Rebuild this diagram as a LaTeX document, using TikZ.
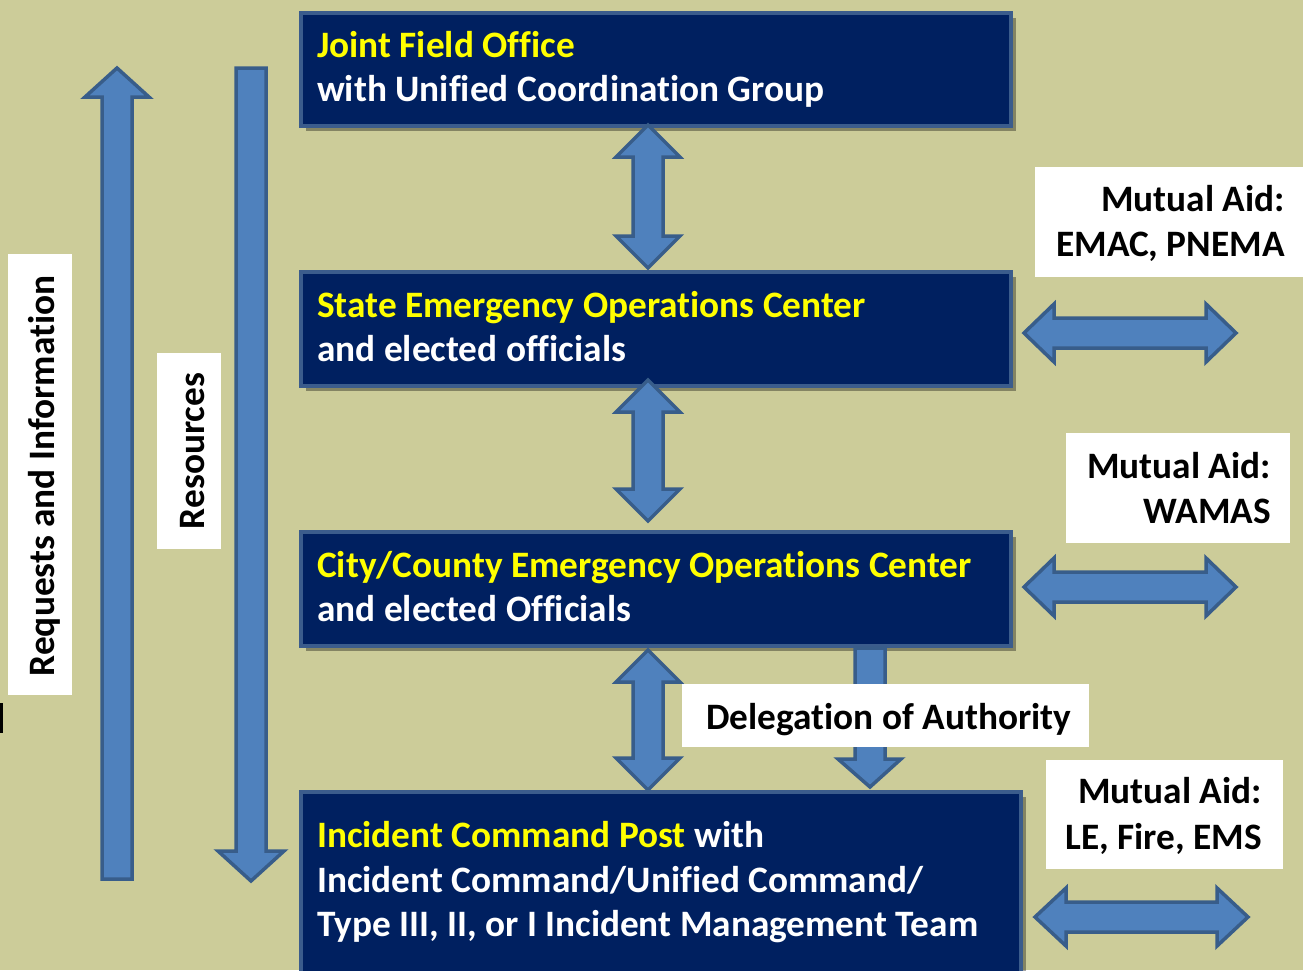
\documentclass[tikz,border=0pt]{standalone}
\usepackage{fontspec}
\setmainfont{Carlito}[Ligatures={NoCommon}]
\usetikzlibrary{shadows}
\definecolor{bg}{RGB}{204,204,153}
\definecolor{navy}{RGB}{0,32,96}
\definecolor{boxline}{RGB}{59,92,140}
\definecolor{arrfill}{RGB}{79,129,189}
\definecolor{arrline}{RGB}{56,93,138}
\definecolor{yel}{RGB}{255,255,0}
\newcommand\VDArr[3]{% cx, ytop, ybot
  \filldraw[blockarrow] (#1,#2) -- (#1+32,#2+32) -- (#1+15,#2+32) -- (#1+15,#3-32) -- (#1+32,#3-32) -- (#1,#3) -- (#1-32,#3-32) -- (#1-15,#3-32) -- (#1-15,#2+32) -- (#1-32,#2+32) -- cycle;}
\newcommand\HDArr[4]{% xleft, xright, cy, headlen
  \filldraw[blockarrow] (#1,#3) -- (#1+#4,#3-29) -- (#1+#4,#3-15) -- (#2-#4,#3-15) -- (#2-#4,#3-29) -- (#2,#3) -- (#2-#4,#3+29) -- (#2-#4,#3+15) -- (#1+#4,#3+15) -- (#1+#4,#3+29) -- cycle;}
\begin{document}
\begin{tikzpicture}[x=1pt,y=-1pt,
  blockarrow/.style={fill=arrfill,draw=arrline,line width=3.5pt,line join=miter},
  orgbox/.style={fill=navy,draw=boxline,line width=4pt,anchor=north west,inner sep=0pt,
     drop shadow={shadow xshift=5pt,shadow yshift=-5pt,opacity=0.35,fill=black}},
  wbox/.style={fill=white,draw=none,anchor=north west,inner sep=0pt},
  btxt/.style={font=\fontsize{37.3}{45}\selectfont\bfseries,inner sep=0pt},
  ltxt/.style={font=\fontsize{37.3}{45}\selectfont\bfseries,inner sep=0pt,text=black}]
\useasboundingbox (0,0) rectangle (1303,970);
\fill[bg] (0,0) rectangle (1303,970);
\clip (0,0) rectangle (1303,970);
% left stray mark
\fill[black] (0,703) rectangle (3,733);
% left vertical arrows
\filldraw[blockarrow] (117,68) -- (149,97) -- (132,97) -- (132,879) -- (102,879) -- (102,97) -- (85,97) -- cycle;
\filldraw[blockarrow] (236,68) -- (266,68) -- (266,851) -- (284,851) -- (251,881) -- (218,851) -- (236,851) -- cycle;
% label boxes left
\node[wbox,minimum width=64pt,minimum height=441pt] (reqbox) at (8,254) {};
\node[ltxt,rotate=90,anchor=base] (req) at (54,476) {Requests and Information};
\node[wbox,minimum width=64pt,minimum height=196pt] (resbox) at (157,353) {};
\node[ltxt,rotate=90,anchor=base] (res) at (204,451) {Resources};
% boxes
\node[orgbox,minimum width=710pt,minimum height=113pt] (jfo) at (299,11) {};
\node[orgbox,minimum width=710pt,minimum height=114pt] (seoc) at (299,270) {};
\node[orgbox,minimum width=710pt,minimum height=114pt] (city) at (299,530) {};
\node[orgbox,minimum width=720pt,minimum height=200pt] (icp) at (299,790) {};
% box texts
\node[btxt,anchor=base west,text=yel] (jfo1) at (317,57) {Joint Field Office};
\node[btxt,anchor=base west,text=white] (jfo2) at (317,101) {with Unified Coordination Group};
\node[btxt,anchor=base west,text=yel] (seoc1) at (317,317) {State Emergency Operations Center};
\node[btxt,anchor=base west,text=white] (seoc2) at (317,361) {and elected officials};
\node[btxt,anchor=base west,text=yel] (city1) at (317,577) {City/County Emergency Operations Center};
\node[btxt,anchor=base west,text=white] (city2) at (317,621) {and elected Officials};
\node[btxt,anchor=base west,text=white] (icp1) at (317,847) {\textcolor{yel}{Incident Command Post} with};
\node[btxt,anchor=base west,text=white] (icp2) at (317,892) {Incident Command/Unified Command/};
\node[btxt,anchor=base west,text=white] (icp3) at (317,936) {Type III, II, or I Incident Management Team};
% vertical double arrows between boxes
\VDArr{648}{125}{268}
\VDArr{648}{380}{521}
\VDArr{648}{650}{790}
% delegation arrow
\filldraw[blockarrow] (855,648) -- (885,648) -- (885,759) -- (901,759) -- (870,787) -- (838,759) -- (855,759) -- cycle;
\node[wbox,minimum width=407pt,minimum height=63pt] (delbox) at (682,684) {};
\node[ltxt,anchor=base west] (del) at (706,729) {Delegation of Authority};
% horizontal double arrows
\HDArr{1024}{1236}{333}{30}
\HDArr{1024}{1236}{587}{30}
\HDArr{1035}{1248}{917}{31}
% mutual aid labels
\node[wbox,minimum width=268pt,minimum height=110pt] (ma1box) at (1035,167) {};
\node[ltxt,anchor=base east] (ma1a) at (1285,211) {Mutual Aid:};
\node[ltxt,anchor=base east] (ma1b) at (1285,256) {EMAC, PNEMA};
\node[wbox,minimum width=224pt,minimum height=110pt] (ma2box) at (1066,433) {};
\node[ltxt,anchor=base east] (ma2a) at (1271,478) {Mutual Aid:};
\node[ltxt,anchor=base east] (ma2b) at (1271,523) {WAMAS};
\node[wbox,minimum width=237pt,minimum height=109pt] (ma3box) at (1046,760) {};
\node[ltxt,anchor=base east] (ma3a) at (1262,803) {Mutual Aid:};
\node[ltxt,anchor=base east] (ma3b) at (1262,849) {LE, Fire, EMS};
\end{tikzpicture}
\end{document}
